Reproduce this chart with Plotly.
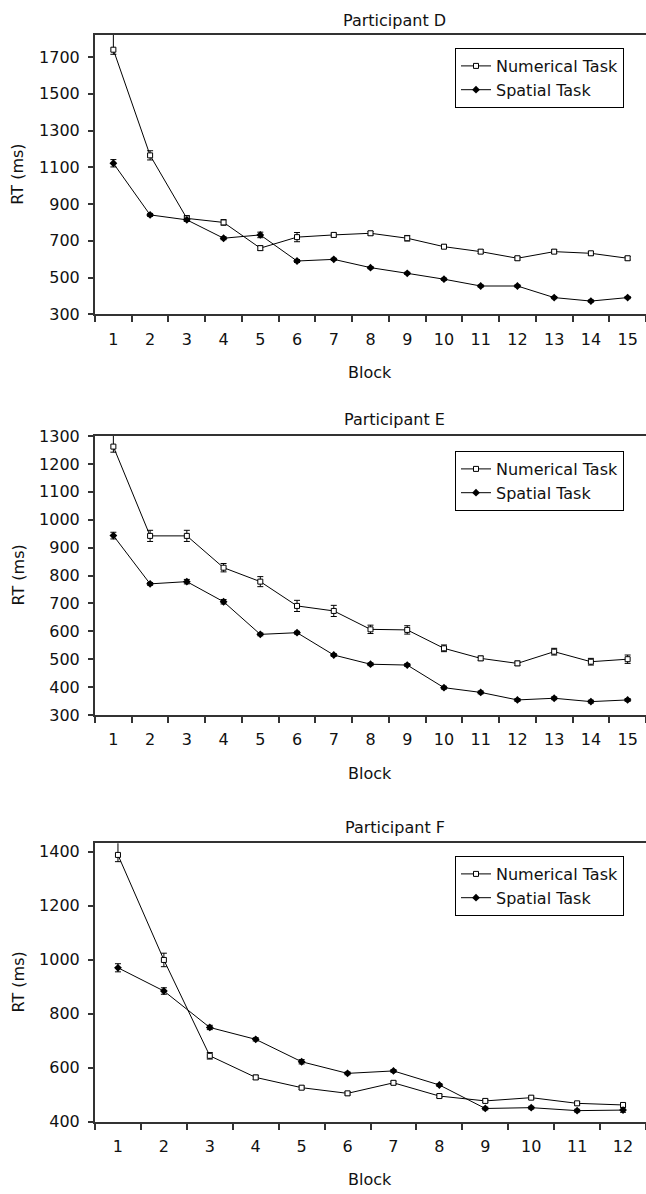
import plotly.graph_objects as go

# ---------------- data ----------------
blocks_15 = [str(i) for i in range(1, 16)]
blocks_12 = [str(i) for i in range(1, 13)]

d_num = [1740, 1165, 822, 800, 660, 720, 732, 741, 714, 668, 641, 605, 641, 632, 605]
d_num_err_plus = [100, 25, 15, 15, 12, 25, 10, 10, 15, 10, 10, 10, 10, 10, 10]
d_num_err_minus = [25, 25, 15, 15, 12, 25, 10, 10, 15, 10, 10, 10, 10, 10, 10]
d_spa = [1122, 841, 814, 714, 732, 590, 599, 554, 523, 491, 454, 454, 391, 372, 391]
d_spa_err = [20, 8, 8, 8, 15, 8, 6, 6, 6, 6, 6, 6, 6, 6, 6]

e_num = [1262, 942, 942, 828, 778, 691, 673, 607, 605, 539, 503, 485, 527, 491, 500]
e_num_err_plus = [50, 20, 20, 15, 18, 20, 20, 15, 15, 12, 8, 8, 12, 12, 15]
e_num_err_minus = [20, 20, 20, 15, 18, 20, 20, 15, 15, 12, 8, 8, 12, 12, 15]
e_spa = [943, 770, 778, 706, 589, 595, 515, 482, 479, 398, 381, 354, 360, 348, 354]
e_spa_err = [12, 5, 8, 8, 5, 5, 5, 5, 5, 5, 5, 5, 5, 5, 5]

f_num = [1388, 999, 644, 564, 526, 505, 544, 495, 477, 489, 468, 462]
f_num_err_plus = [50, 25, 12, 8, 6, 6, 6, 6, 6, 6, 6, 6]
f_num_err_minus = [25, 25, 12, 8, 6, 6, 6, 6, 6, 6, 6, 6]
f_spa = [970, 884, 749, 705, 622, 579, 588, 536, 449, 452, 441, 443]
f_spa_err = [15, 12, 8, 6, 8, 5, 5, 5, 5, 5, 5, 8]

titles = ["Participant D", "Participant E", "Participant F"]
y_ranges = [[300, 1820], [300, 1300], [400, 1431]]
y_ticks = [list(range(300, 1701, 200)), list(range(300, 1301, 100)), list(range(400, 1401, 200))]
series_names = ["Numerical Task", "Spatial Task"]

# ---------------- layout geometry (pixels) ----------------
W, H = 646, 1194
FONT = "DejaVu Sans, Arial, sans-serif"
FS = 16
plot_left = 95
plots_px = [(35, 314.3), (436, 715), (843.3, 1121.7)]  # (top, bottom)
legend_tops = [48, 451, 856]
title_ys = [20, 419, 827]

panels = [
    (blocks_15, d_num, d_num_err_plus, d_num_err_minus, d_spa, d_spa_err),
    (blocks_15, e_num, e_num_err_plus, e_num_err_minus, e_spa, e_spa_err),
    (blocks_12, f_num, f_num_err_plus, f_num_err_minus, f_spa, f_spa_err),
]

fig = go.Figure()
annotations = []
layout = dict(
    width=W, height=H, autosize=False,
    margin=dict(l=0, r=0, t=0, b=0, pad=0, autoexpand=False),
    paper_bgcolor="white", plot_bgcolor="white",
    font=dict(family=FONT, size=FS, color="#111"),
    showlegend=True,
)

for i, (cats, num, nplus, nminus, spa, serr) in enumerate(panels):
    k = "" if i == 0 else str(i + 1)
    xa, ya = "x" + k, "y" + k
    leg = "legend" + k
    top, bot = plots_px[i]
    fig.add_trace(go.Scatter(
        x=cats, y=num, name=series_names[0], xaxis=xa, yaxis=ya, legend=leg,
        mode="lines+markers",
        line=dict(color="black", width=1),
        marker=dict(symbol="square", size=5, color="white", line=dict(color="black", width=1)),
        error_y=dict(type="data", array=nplus, arrayminus=nminus, symmetric=False,
                     color="black", thickness=1, width=3),
    ))
    fig.add_trace(go.Scatter(
        x=cats, y=spa, name=series_names[1], xaxis=xa, yaxis=ya, legend=leg,
        mode="lines+markers",
        line=dict(color="black", width=1),
        marker=dict(symbol="diamond", size=6, color="black"),
        error_y=dict(type="data", array=serr, color="black", thickness=1, width=3),
    ))
    layout["xaxis" + k] = dict(
        domain=[plot_left / W, 1.0], anchor=ya, automargin=False,
        type="category", range=[-0.5, len(cats) - 0.5],
        tickson="boundaries", ticks="outside", ticklen=6, tickwidth=1.5, tickcolor="#333",
        showline=True, linecolor="#333", linewidth=2, mirror=True,
        showgrid=False, zeroline=False, ticklabelstandoff=9,
        tickfont=dict(size=FS, color="#111"), fixedrange=True,
    )
    layout["yaxis" + k] = dict(
        domain=[1 - bot / H, 1 - top / H], anchor=xa, automargin=False,
        range=y_ranges[i], tickmode="array", tickvals=y_ticks[i],
        ticks="outside", ticklen=5, tickwidth=1.5, tickcolor="#333",
        showline=True, linecolor="#333", linewidth=2,
        showgrid=False, zeroline=False, ticklabelstandoff=5,
        tickfont=dict(size=FS, color="#111"), fixedrange=True,
    )
    layout[leg] = dict(
        x=455 / W, y=1 - legend_tops[i] / H, xanchor="left", yanchor="top",
        bgcolor="white", bordercolor="black", borderwidth=1,
        font=dict(size=FS, color="#111", family=FONT),
        itemwidth=30, tracegroupgap=0,
    )
    annotations.append(dict(
        text=titles[i], x=395 / W, y=1 - title_ys[i] / H, xref="paper", yref="paper",
        xanchor="center", yanchor="middle", showarrow=False, font=dict(size=FS, color="#111"),
    ))
    annotations.append(dict(
        text="RT (ms)", x=18 / W, y=1 - (top + bot) / 2 / H, xref="paper", yref="paper",
        xanchor="center", yanchor="middle", textangle=-90, showarrow=False,
        font=dict(size=FS, color="#111"),
    ))
    annotations.append(dict(
        text="Block", x=370 / W, y=1 - (bot + 58) / H, xref="paper", yref="paper",
        xanchor="center", yanchor="middle", showarrow=False, font=dict(size=FS, color="#111"),
    ))

layout["annotations"] = annotations
fig.update_layout(**layout)
fig.write_html("out.html")
